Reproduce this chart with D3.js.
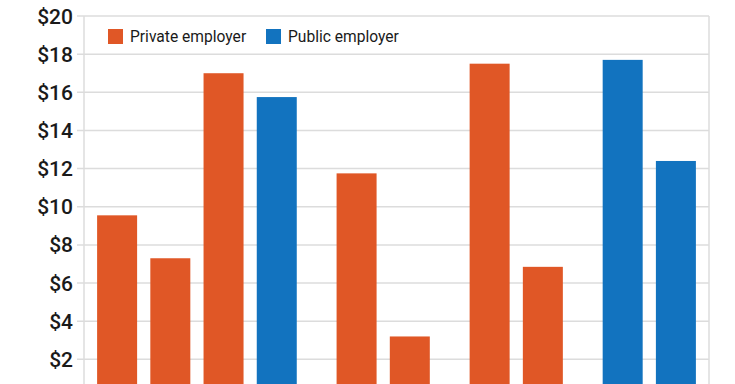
<!DOCTYPE html>
<html>
  <head>
    <meta charset="utf-8" />
    <script src="https://d3js.org/d3.v7.min.js"></script>
    <style>
      body { margin: 0; background: #fff; }
      text { font-family: Roboto, "Open Sans", sans-serif; fill: #1a1a1a; }
    </style>
  </head>
  <body>
    <svg id="viz"></svg>
    <script>
      // groups of bars (x labels are cut off)
      var groups = ["A", "B", "C", "D"];
      var groupSizes = [4, 2, 2, 2];
      var barSeries = ["Private", "Private", "Private", "Public",
                       "Private", "Private",
                       "Private", "Private",
                       "Public", "Public"];
      var barValues = [9.55, 7.3, 17.0, 15.75,
                       11.75, 3.2,
                       17.5, 6.85,
                       17.7, 12.4];
      var yTicks = [0, 2, 4, 6, 8, 10, 12, 14, 16, 18, 20];
      var legendLabels = ["Private employer", "Public employer"];
      var seriesKeys = ["Private", "Public"];

      var width = 735, height = 384;
      var plotLeft = 84, plotRight = 709, plotTop = 16, plotBottom = 397.5;

      var svg = d3.select("#viz")
          .attr("width", width)
          .attr("height", height);

      var color = d3.scaleOrdinal()
          .domain(seriesKeys)
          .range(["#e05726", "#1273bf"]);

      var y = d3.scaleLinear()
          .domain([0, 20])
          .range([plotBottom, plotTop]);

      // slot positions: one unit per bar, half a unit between groups
      var slots = [];
      var u = 0;
      groupSizes.forEach(function(n) {
        for (var i = 0; i < n; i++) { slots.push(u); u += 1; }
        u += 0.5;
      });
      var totalUnits = u - 0.5;

      var x = d3.scaleLinear()
          .domain([0, totalUnits])
          .range([plotLeft + 6.5, plotRight - 6.5]);
      var unit = x(1) - x(0);
      var barW = 40;

      // gridlines
      svg.append("g")
        .selectAll("line")
        .data(yTicks)
        .enter().append("line")
          .attr("x1", plotLeft - 7)
          .attr("x2", plotRight)
          .attr("y1", function(d) { return y(d); })
          .attr("y2", function(d) { return y(d); })
          .attr("stroke", "#dcdcdc")
          .attr("stroke-width", 1.5);

      // frame sides
      [plotLeft, plotRight].forEach(function(xx) {
        svg.append("line")
          .attr("x1", xx).attr("x2", xx)
          .attr("y1", plotTop).attr("y2", height)
          .attr("stroke", "#dcdcdc")
          .attr("stroke-width", 1.5);
      });

      // y tick labels
      svg.append("g")
        .selectAll("text")
        .data(yTicks)
        .enter().append("text")
          .attr("x", 73)
          .attr("y", function(d) { return y(d); })
          .attr("dy", "0.36em")
          .attr("text-anchor", "end")
          .attr("font-size", 21)
          .attr("font-weight", 500)
          .text(function(d) { return "$" + d; });

      // bars
      svg.append("g")
        .selectAll("rect")
        .data(barValues)
        .enter().append("rect")
          .attr("x", function(d, i) { return x(slots[i]) + (unit - barW) / 2; })
          .attr("width", barW)
          .attr("y", function(d) { return y(d); })
          .attr("height", function(d) { return y(0) - y(d); })
          .attr("fill", function(d, i) { return color(barSeries[i]); });

      // legend
      var legend = svg.append("g");
      var legendX = [108, 266];
      legendLabels.forEach(function(label, i) {
        legend.append("rect")
          .attr("x", legendX[i])
          .attr("y", 29)
          .attr("width", 15)
          .attr("height", 15)
          .attr("fill", color(seriesKeys[i]));
        legend.append("text")
          .attr("x", legendX[i] + 22)
          .attr("y", 37)
          .attr("dy", "0.35em")
          .attr("font-size", 15.6)
          .text(label);
      });
    </script>
  </body>
</html>
